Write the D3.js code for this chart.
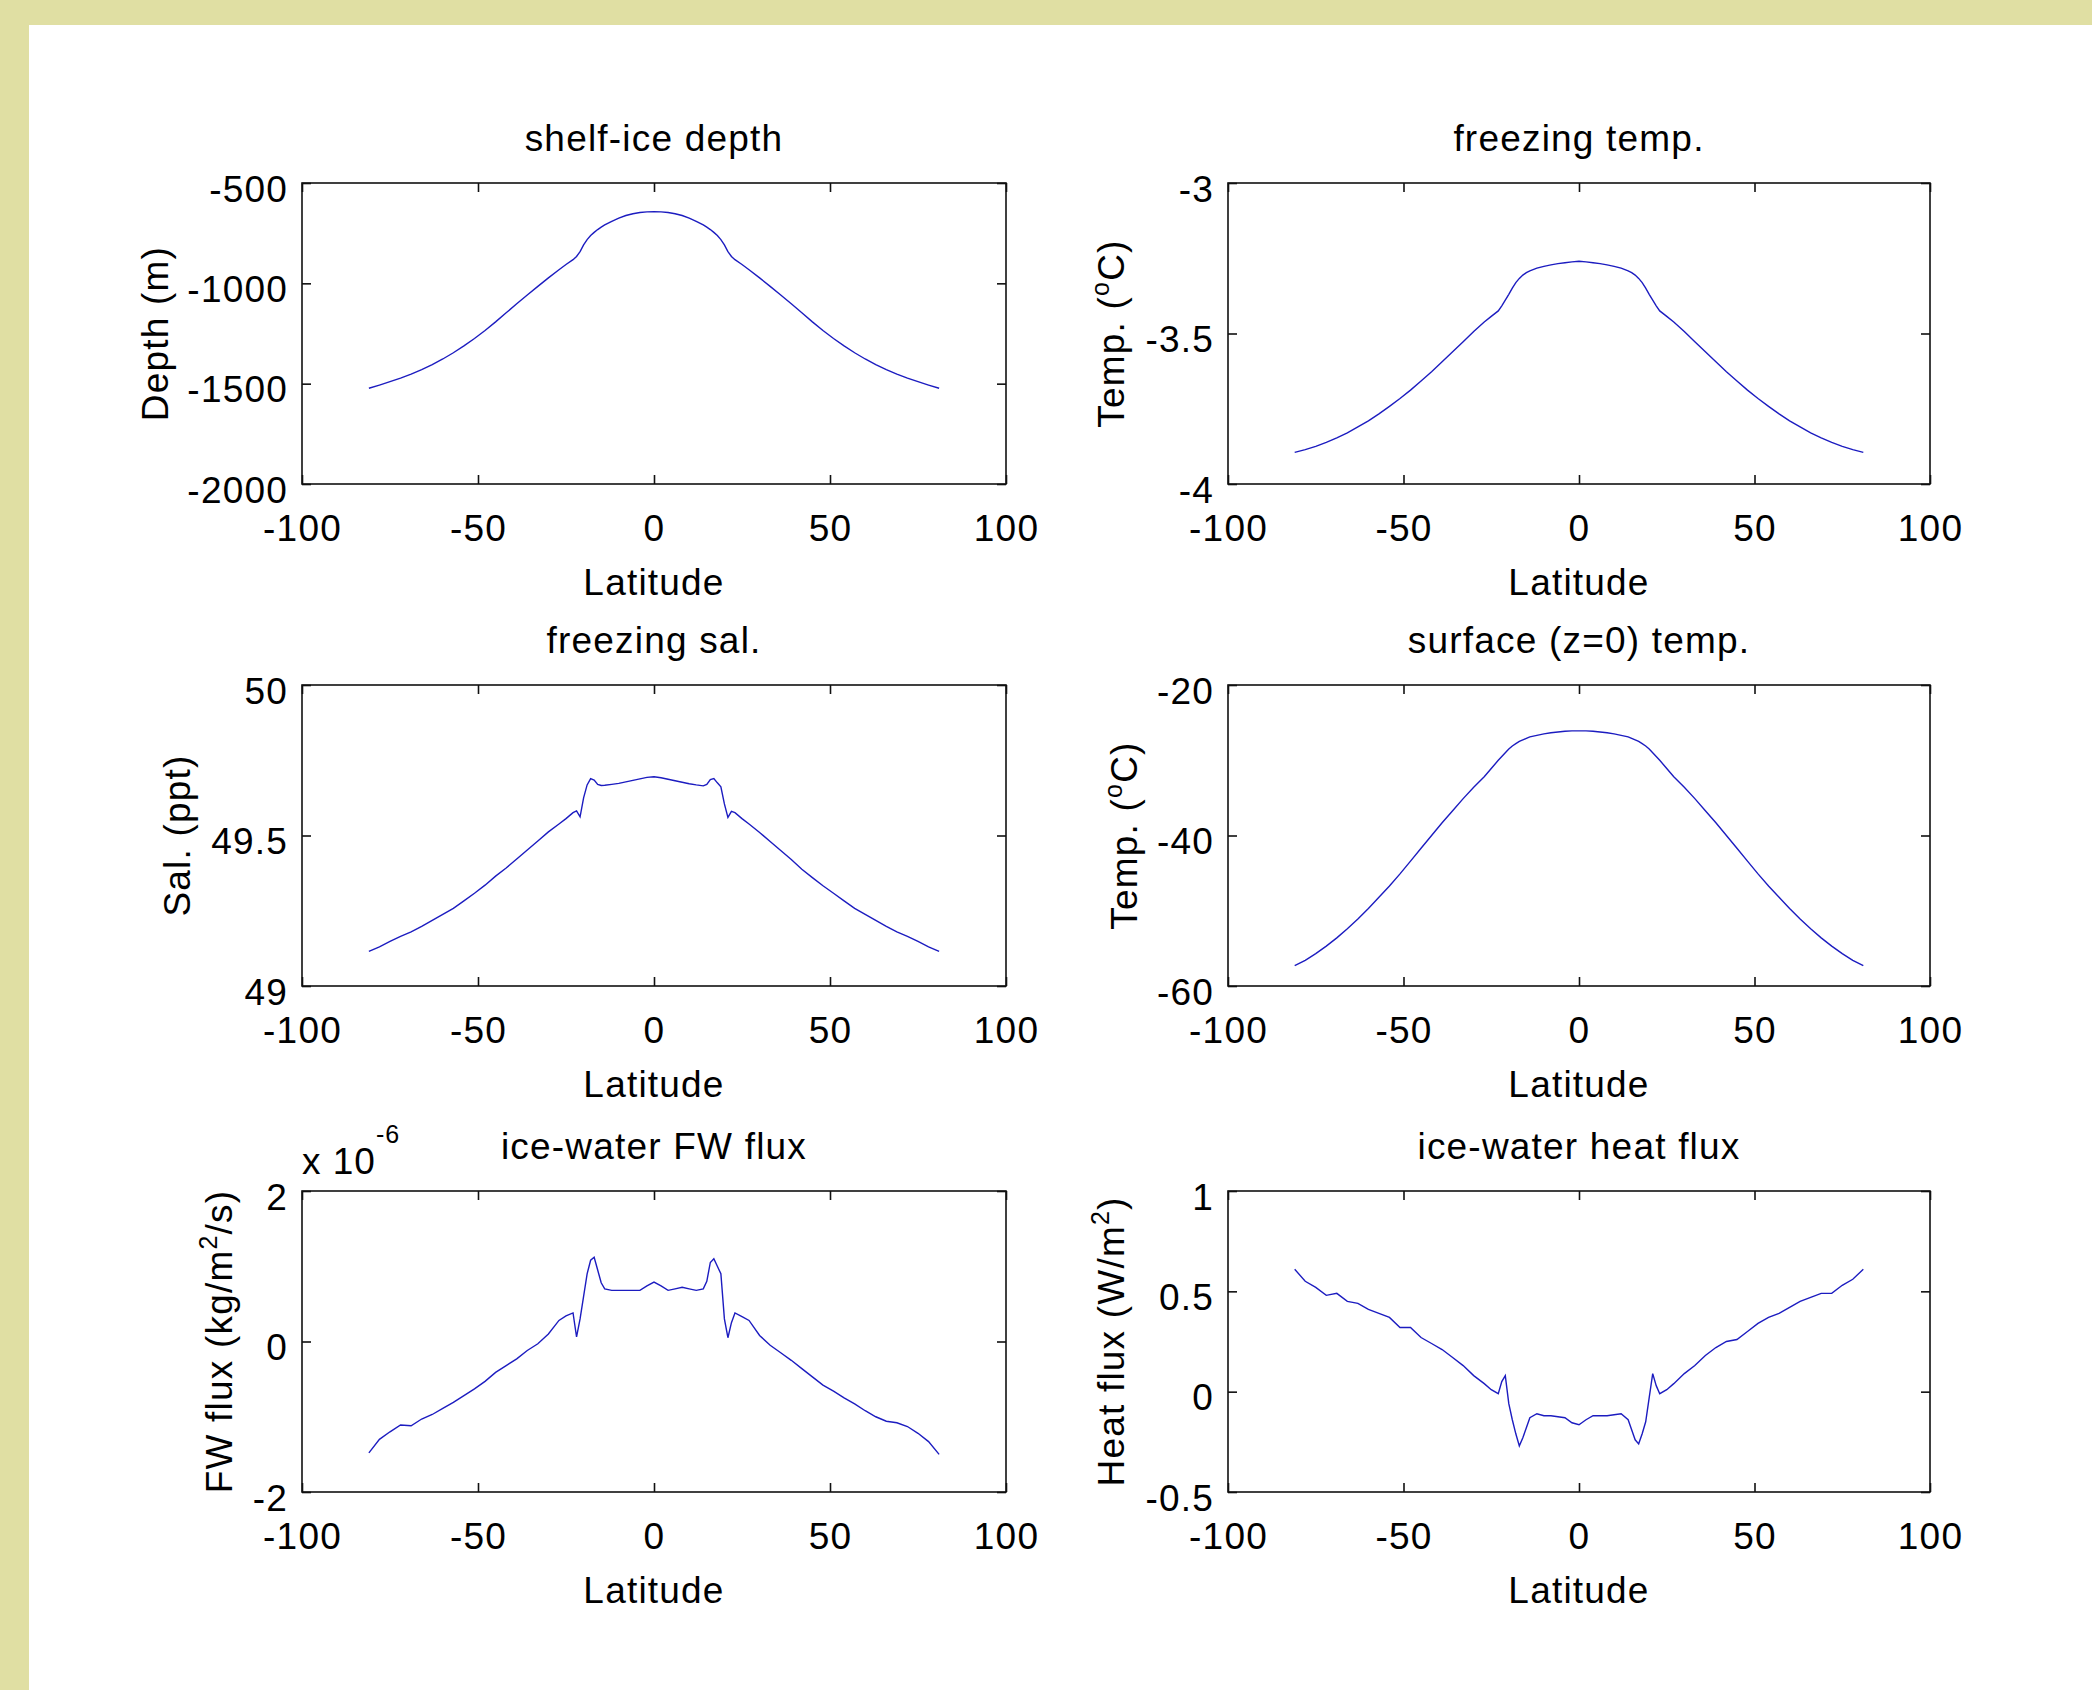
<!DOCTYPE html>
<html>
<head>
<meta charset="utf-8">
<script src="https://cdn.jsdelivr.net/npm/d3@7"></script>
<style>
  body { margin: 0; }
  svg { display: block; }
</style>
</head>
<body>
<div id="fig"></div>
<script>
// latitude grid shared by all six series
const lat = [-81, -78, -75, -72, -69, -66, -63, -60, -57, -54, -51, -48, -45, -42, -39, -36, -33, -30, -27,
  -25, -23,
  -22, -21, -20, -19, -18, -17, -16, -15, -14,
  -12, -10, -8, -6, -4, -2, 0, 2, 4, 6, 8, 10, 12,
  14, 15, 16, 17, 18, 19, 20, 21, 22,
  23, 25,
  27, 30, 33, 36, 39, 42, 45, 48, 51, 54, 57, 60, 63, 66, 69, 72, 75, 78, 81];

const depth = [-1523, -1507, -1490, -1472, -1452, -1430, -1405, -1377, -1346, -1312, -1275, -1235, -1192, -1147, -1102, -1058, -1015, -973, -932,
  -906, -882,
  -866, -842, -808, -782, -762, -746, -732, -720, -709,
  -691, -675, -662, -653, -647, -644, -643, -644, -647, -653, -662, -675, -691,
  -709, -720, -732, -746, -762, -782, -808, -842, -866,
  -882, -906,
  -932, -973, -1015, -1058, -1102, -1147, -1192, -1235, -1275, -1312, -1346, -1377, -1405, -1430, -1452, -1472, -1490, -1507, -1523];

const freezeTemp = [-3.895, -3.886, -3.875, -3.862, -3.847, -3.830, -3.810, -3.790, -3.767, -3.742, -3.716, -3.688, -3.658, -3.627, -3.594, -3.561, -3.527, -3.493, -3.462,
  -3.443, -3.425,
  -3.408, -3.389, -3.370, -3.349, -3.331, -3.317, -3.306, -3.298, -3.292,
  -3.283, -3.277, -3.272, -3.268, -3.265, -3.262, -3.260, -3.262, -3.265, -3.268, -3.272, -3.277, -3.283,
  -3.292, -3.298, -3.306, -3.317, -3.331, -3.349, -3.370, -3.389, -3.408,
  -3.425, -3.443,
  -3.462, -3.493, -3.527, -3.561, -3.594, -3.627, -3.658, -3.688, -3.716, -3.742, -3.767, -3.790, -3.810, -3.830, -3.847, -3.862, -3.875, -3.886, -3.895];

const freezeSal = [49.115, 49.130, 49.148, 49.165, 49.180, 49.198, 49.218, 49.238, 49.258, 49.283, 49.308, 49.335, 49.365, 49.392, 49.422, 49.452, 49.482, 49.512, 49.538,
  49.556, 49.576,
  49.582, 49.562, 49.625, 49.668, 49.689, 49.684, 49.670, 49.666, 49.667,
  49.670, 49.673, 49.678, 49.683, 49.688, 49.693, 49.695, 49.692, 49.687, 49.682, 49.677, 49.672, 49.668,
  49.665, 49.670, 49.686, 49.689, 49.675, 49.662, 49.605, 49.560, 49.580,
  49.576, 49.556,
  49.538, 49.510, 49.480, 49.450, 49.420, 49.388, 49.360, 49.333, 49.308, 49.283, 49.258, 49.238, 49.218, 49.198, 49.180, 49.165, 49.148, 49.130, 49.115];

const surfTemp = [-57.3, -56.6, -55.7, -54.7, -53.6, -52.4, -51.1, -49.7, -48.2, -46.7, -45.1, -43.4, -41.7, -40.0, -38.3, -36.7, -35.1, -33.6, -32.2,
  -31.1, -30.0,
  -29.5, -29.0, -28.5, -28.1, -27.8, -27.5, -27.3, -27.1, -26.9,
  -26.7, -26.5, -26.35, -26.25, -26.15, -26.1, -26.1, -26.1, -26.15, -26.25, -26.35, -26.5, -26.7,
  -26.9, -27.1, -27.3, -27.5, -27.8, -28.1, -28.5, -29.0, -29.5,
  -30.0, -31.1,
  -32.2, -33.6, -35.1, -36.7, -38.3, -40.0, -41.7, -43.4, -45.1, -46.7, -48.2, -49.7, -51.1, -52.4, -53.6, -54.7, -55.7, -56.6, -57.3];

// in units of 1e-6 kg/m^2/s
const fwFlux = [-1.48, -1.30, -1.20, -1.11, -1.12, -1.03, -0.97, -0.89, -0.81, -0.72, -0.63, -0.53, -0.41, -0.32, -0.23, -0.12, -0.03, 0.10, 0.28,
  0.34, 0.38,
  0.06, 0.30, 0.60, 0.90, 1.08, 1.12, 0.95, 0.78, 0.70,
  0.68, 0.68, 0.68, 0.68, 0.68, 0.74, 0.79, 0.74, 0.68, 0.70, 0.72, 0.70, 0.68,
  0.70, 0.80, 1.05, 1.10, 1.00, 0.90, 0.30, 0.05, 0.25,
  0.38, 0.33,
  0.28, 0.08, -0.05, -0.15, -0.25, -0.36, -0.47, -0.58, -0.66, -0.75, -0.83, -0.92, -1.00, -1.06, -1.08, -1.13, -1.22, -1.33, -1.50];

const heatFlux = [0.61, 0.55, 0.52, 0.48, 0.49, 0.45, 0.44, 0.41, 0.39, 0.37, 0.32, 0.32, 0.27, 0.24, 0.21, 0.17, 0.13, 0.08, 0.04,
  0.01, -0.01,
  0.05, 0.08, -0.06, -0.14, -0.21, -0.27, -0.23, -0.18, -0.13,
  -0.11, -0.12, -0.12, -0.125, -0.13, -0.155, -0.165, -0.14, -0.12, -0.12, -0.12, -0.115, -0.11,
  -0.14, -0.19, -0.24, -0.26, -0.21, -0.15, -0.03, 0.09, 0.03,
  -0.01, 0.01,
  0.04, 0.09, 0.13, 0.18, 0.22, 0.25, 0.26, 0.30, 0.34, 0.37, 0.39, 0.42, 0.45, 0.47, 0.49, 0.49, 0.53, 0.56, 0.61];

const xTicks = [-100, -50, 0, 50, 100];
const depthTicks = [-2000, -1500, -1000, -500];
const freezeTempTicks = [-4, -3.5, -3];
const salTicks = [49, 49.5, 50];
const surfTempTicks = [-60, -40, -20];
const fwTicks = [-2, 0, 2];
const heatTicks = [-0.5, 0, 0.5, 1];

const W = 2092, H = 1690;
const FONT = 37;

const svg = d3.select("#fig").append("svg")
  .attr("width", W)
  .attr("height", H)
  .style("font-family", "'Liberation Sans', Arial, Helvetica, sans-serif");

// yellow frame + white page
svg.append("rect").attr("width", W).attr("height", H).attr("fill", "#e0dfa3");
svg.append("rect").attr("x", 29).attr("y", 25).attr("width", W - 29).attr("height", H - 25).attr("fill", "#ffffff");

const cols = [{ x: 302, w: 704 }, { x: 1228, w: 702 }];
const rows = [183, 685, 1191];
const ph = 301;

const panels = [
  { title: "shelf-ice depth", values: depth, domain: [-2000, -500], ticks: depthTicks, col: 0, row: 0,
    ylab: [{ t: "Depth (m)" }], yOff: 134 },
  { title: "freezing temp.", values: freezeTemp, domain: [-4, -3], ticks: freezeTempTicks, col: 1, row: 0,
    ylab: [{ t: "Temp. (" }, { t: "o", sup: true }, { t: "C)" }], yOff: 104 },
  { title: "freezing sal.", values: freezeSal, domain: [49, 50], ticks: salTicks, col: 0, row: 1,
    ylab: [{ t: "Sal. (ppt)" }], yOff: 112 },
  { title: "surface (z=0) temp.", values: surfTemp, domain: [-60, -20], ticks: surfTempTicks, col: 1, row: 1,
    ylab: [{ t: "Temp. (" }, { t: "o", sup: true }, { t: "C)" }], yOff: 91 },
  { title: "ice-water FW flux", values: fwFlux, domain: [-2, 2], ticks: fwTicks, col: 0, row: 2,
    ylab: [{ t: "FW flux (kg/m" }, { t: "2", sup: true }, { t: "/s)" }], yOff: 70, exponent: "-6" },
  { title: "ice-water heat flux", values: heatFlux, domain: [-0.5, 1], ticks: heatTicks, col: 1, row: 2,
    ylab: [{ t: "Heat flux (W/m" }, { t: "2", sup: true }, { t: ")" }], yOff: 104 }
];

panels.forEach((p) => {
  const left = cols[p.col].x, pw = cols[p.col].w, top = rows[p.row];
  const g = svg.append("g").attr("transform", `translate(${left},${top})`);

  const x = d3.scaleLinear().domain([-100, 100]).range([0, pw]);
  const y = d3.scaleLinear().domain(p.domain).range([ph, 0]);

  // ticks on all four sides, pointing inward
  const styleAxis = (a) => {
    a.select(".domain").remove();
    a.selectAll(".tick line").attr("stroke", "#111").attr("stroke-width", 1.6);
    a.selectAll(".tick text")
      .attr("fill", "#000")
      .attr("font-size", FONT)
      .attr("letter-spacing", "1.2px");
  };

  g.append("g")
    .attr("transform", `translate(0,${ph})`)
    .call(d3.axisBottom(x).tickValues(xTicks).tickSize(-9).tickPadding(31).tickFormat((d) => String(d)))
    .call(styleAxis);

  g.append("g")
    .call(d3.axisTop(x).tickValues(xTicks).tickSize(-9).tickFormat(""))
    .call(styleAxis);

  g.append("g")
    .call(d3.axisLeft(y).tickValues(p.ticks).tickSize(-9).tickPadding(14).tickFormat((d) => String(d)))
    .call(styleAxis)
    .call((a) => a.selectAll(".tick text").attr("dy", "0.49em"));

  g.append("g")
    .attr("transform", `translate(${pw},0)`)
    .call(d3.axisRight(y).tickValues(p.ticks).tickSize(-9).tickFormat(""))
    .call(styleAxis);

  // box
  g.append("rect")
    .attr("width", pw)
    .attr("height", ph)
    .attr("fill", "none")
    .attr("stroke", "#111")
    .attr("stroke-width", 1.6);

  // curve
  const line = d3.line()
    .x((d, i) => x(lat[i]))
    .y((d) => y(d));

  g.append("path")
    .datum(p.values)
    .attr("d", line)
    .attr("fill", "none")
    .attr("stroke", "#1c1cc0")
    .attr("stroke-width", 1.4);

  // title
  g.append("text")
    .attr("x", pw / 2)
    .attr("y", -32)
    .attr("text-anchor", "middle")
    .attr("font-size", FONT)
    .attr("letter-spacing", "1.2px")
    .text(p.title);

  // x label
  g.append("text")
    .attr("x", pw / 2)
    .attr("y", ph + 111)
    .attr("text-anchor", "middle")
    .attr("font-size", FONT)
    .attr("letter-spacing", "1.2px")
    .text("Latitude");

  // y label
  const yl = g.append("text")
    .attr("transform", `translate(${-p.yOff},${ph / 2}) rotate(-90)`)
    .attr("text-anchor", "middle")
    .attr("font-size", FONT)
    .attr("letter-spacing", "1.2px");
  let shifted = false;
  p.ylab.forEach((s) => {
    const ts = yl.append("tspan").text(s.t);
    if (s.sup) {
      ts.attr("dy", -15).attr("font-size", 25);
      shifted = true;
    } else if (shifted) {
      ts.attr("dy", 15);
      shifted = false;
    }
  });

  // exponent multiplier
  if (p.exponent) {
    const ex = g.append("text")
      .attr("x", 0)
      .attr("y", -17)
      .attr("font-size", FONT)
      .attr("letter-spacing", "1px");
    ex.append("tspan").text("x 10");
    ex.append("tspan").attr("dy", -31).attr("font-size", 25).text(p.exponent);
  }
});
</script>
</body>
</html>
